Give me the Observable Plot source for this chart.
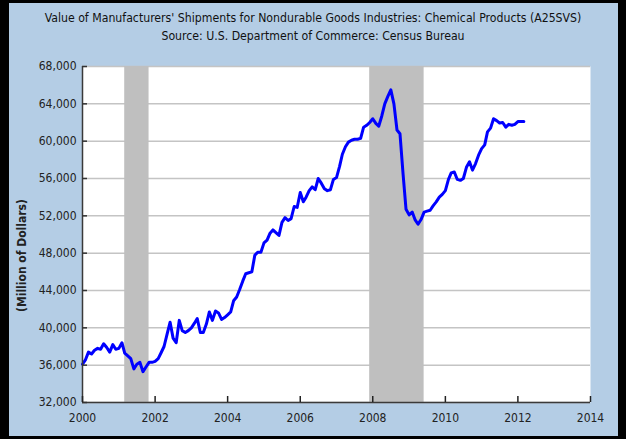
<!DOCTYPE html>
<html><head><meta charset="utf-8">
<script src="https://cdn.jsdelivr.net/npm/d3@7"></script>
<script src="https://cdn.jsdelivr.net/npm/@observablehq/plot@0.6"></script>
<style>
html,body{margin:0;padding:0;background:#000;}
#wrap{position:relative;width:626px;height:439px;background:#000;overflow:hidden;}
#panel{position:absolute;left:9px;top:3px;width:609px;height:433px;background:#b4cde5;}
.title{position:absolute;left:0;width:626px;text-align:center;font-family:"Liberation Sans Narrow","DejaVu Sans Condensed",sans-serif;font-size:12.2px;color:#111;white-space:nowrap;}
#chart{position:absolute;left:0;top:0;}
</style></head>
<body>
<div id="wrap">
  <div id="panel"></div>
  <div class="title" id="t1" style="top:11px"></div>
  <div class="title" id="t2" style="top:29px"></div>
  <div id="chart"></div>
</div>
<script>
const titleText = "Value of Manufacturers' Shipments for Nondurable Goods Industries: Chemical Products (A25SVS)";
const sourceText = "Source: U.S. Department of Commerce: Census Bureau";
const yLabel = "(Million of Dollars)";
const firstMonth = "2000-01-01";
// monthly values, Million of Dollars, Jan 2000 .. Mar 2012
const v2000 = [36100,36600,37400,37200,37600,37800,37700,38300,37900,37400,38200,37700];
const v2001 = [37800,38400,37300,37000,36700,35600,36100,36300,35300,35800,36300,36300];
const v2002 = [36400,36700,37300,38000,39300,40600,38900,38400,40800,39700,39500,39700];
const v2003 = [40000,40500,41000,39500,39500,40400,41700,40800,41800,41600,40900,41100];
const v2004 = [41400,41700,42900,43300,44100,45000,45800,45900,46000,47800,48100,48100];
const v2005 = [49100,49400,50100,50500,50200,49900,51300,51800,51500,51700,53000,52900];
const v2006 = [54500,53500,54000,54700,55100,54800,56000,55500,54900,54700,54800,55900];
const v2007 = [56100,57300,58600,59400,59900,60100,60200,60200,60300,61500,61700,62000];
const v2008 = [62400,61900,61600,62700,64000,64800,65500,64000,61200,60800,56500,52700];
const v2009 = [52100,52400,51600,51100,51600,52400,52500,52600,53100,53500,54000,54300];
const v2010 = [54700,55900,56600,56700,55900,55800,56000,57200,57800,56900,57600,58500];
const v2011 = [59200,59600,61000,61400,62400,62200,61950,62000,61500,61800,61700,61800];
const v2012 = [62100,62100,62100];
const recessionStart = ["2001-03-01","2007-12-01"];
const recessionEnd = ["2001-11-01","2009-06-01"];
const yTicks = [32000,36000,40000,44000,48000,52000,56000,60000,64000,68000];
const xTickYears = [2000,2002,2004,2006,2008,2010,2012,2014];

document.getElementById("t1").textContent = titleText;
document.getElementById("t2").textContent = sourceText;

const values = [].concat(v2000,v2001,v2002,v2003,v2004,v2005,v2006,v2007,v2008,v2009,v2010,v2011,v2012);
const start = new Date(firstMonth);
const data = values.map((v, i) => ({date: d3.utcMonth.offset(start, i), value: v}));
const recessions = recessionStart.map((s, i) => ({start: new Date(s), end: new Date(recessionEnd[i])}));
const xTicks = xTickYears.map(y => new Date(Date.UTC(y, 0, 1)));
const x0 = xTicks[0], x1 = xTicks[xTicks.length - 1];

const font = "'DejaVu Sans Condensed','DejaVu Sans',sans-serif";
const chart = Plot.plot({
  width: 626,
  height: 439,
  marginLeft: 82,
  marginRight: 36,
  marginTop: 66,
  marginBottom: 37,
  style: {background: "transparent", fontFamily: font, fontSize: "12px", color: "#222"},
  x: {type: "utc", domain: [x0, x1]},
  y: {domain: [32000, 68000]},
  marks: [
    Plot.frame({fill: "white", stroke: null}),
    Plot.gridY(yTicks, {stroke: "#c4c4c4", strokeOpacity: 1, strokeWidth: 1.5}),
    Plot.rect(recessions, {x1: "start", x2: "end", fill: "#bfbfbf"}),
    Plot.lineY(data, {x: "date", y: "value", stroke: "#0000ff", strokeWidth: 3, strokeLinejoin: "round"}),
    Plot.ruleX([x0], {stroke: "#3a3a3a", strokeWidth: 1.5}),
    Plot.ruleY([32000], {stroke: "#3a3a3a", strokeWidth: 1.5}),
    Plot.axisY({ticks: yTicks, tickSize: 5, dx: 5, text: null, stroke: "#333", strokeWidth: 1.5, label: null}),
    Plot.axisY({ticks: yTicks, tickSize: 0, tickPadding: 6, tickFormat: d3.format(","), label: null, fill: "#222"}),
    Plot.axisX({ticks: xTicks, tickSize: 6, dy: -6, text: null, stroke: "#222", strokeWidth: 1.5, label: null}),
    Plot.axisX({ticks: xTicks, tickSize: 0, tickPadding: 11, tickFormat: d3.utcFormat("%Y"), label: null, fill: "#222"}),
    Plot.text([yLabel], {frameAnchor: "left", dx: -60, dy: 21, rotate: -90, textAnchor: "middle", fontWeight: "bold", fontSize: 12, fill: "#222"})
  ]
});
document.getElementById("chart").appendChild(chart);
</script>
</body></html>
